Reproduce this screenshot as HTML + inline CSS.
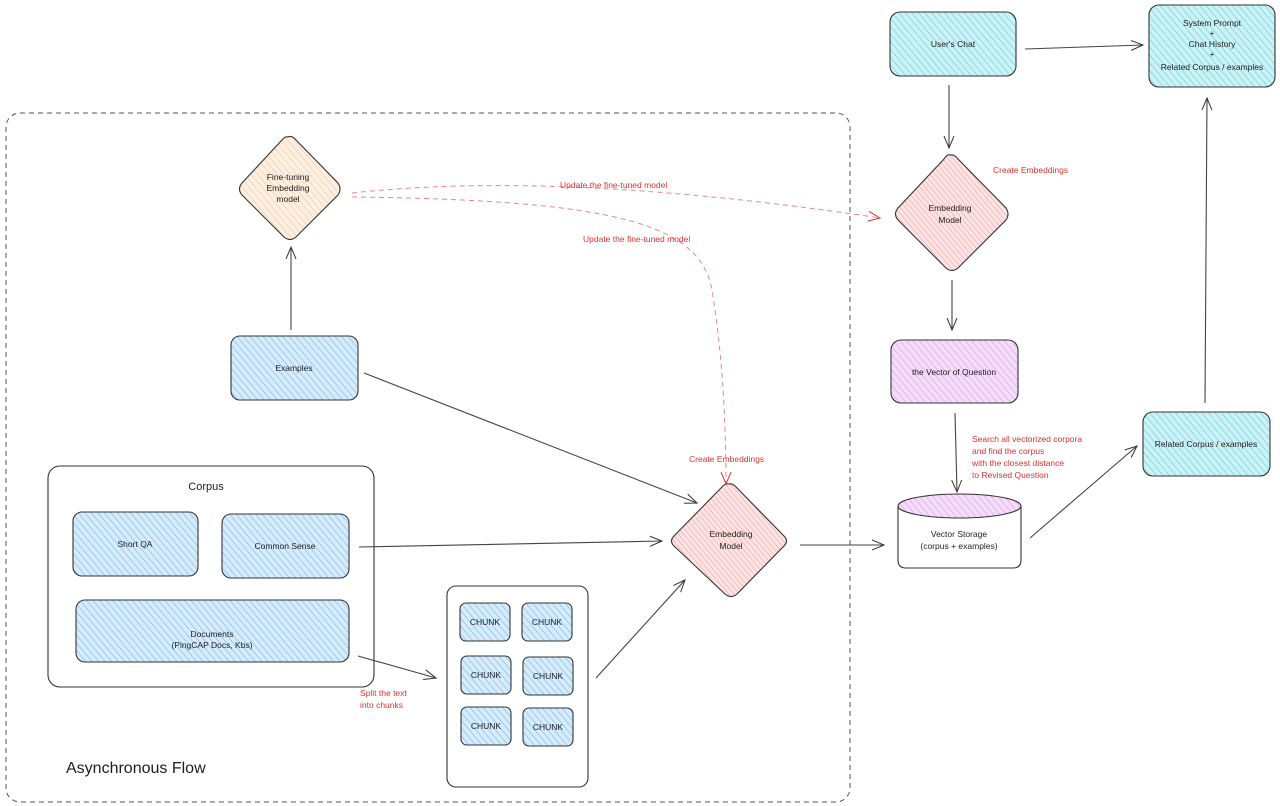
<!DOCTYPE html>
<html><head><meta charset="utf-8"><style>
html,body{margin:0;padding:0;background:#fff;}
svg{display:block;font-family:"Liberation Sans",sans-serif;}
</style></head><body>
<svg width="1280" height="806" viewBox="0 0 1280 806" xmlns="http://www.w3.org/2000/svg">
<defs>
<pattern id="hb" width="5" height="5" patternUnits="userSpaceOnUse" patternTransform="rotate(-40)"><rect width="5" height="5" fill="#d6ebfb"/><line x1="0" y1="0" x2="0" y2="5" stroke="#74b8ec" stroke-width="1.2"/></pattern>
<pattern id="hc" width="5" height="5" patternUnits="userSpaceOnUse" patternTransform="rotate(-40)"><rect width="5" height="5" fill="#cdf2f5"/><line x1="0" y1="0" x2="0" y2="5" stroke="#5ccfdc" stroke-width="1.2"/></pattern>
<pattern id="hp" width="5" height="5" patternUnits="userSpaceOnUse" patternTransform="rotate(-40)"><rect width="5" height="5" fill="#f6dcfb"/><line x1="0" y1="0" x2="0" y2="5" stroke="#d79ce8" stroke-width="1.2"/></pattern>
<pattern id="hr" width="4" height="4" patternUnits="userSpaceOnUse" patternTransform="rotate(-40)"><rect width="4" height="4" fill="#fde4e4"/><line x1="0" y1="0" x2="0" y2="4" stroke="#f0a0a0" stroke-width="1.1"/></pattern>
<pattern id="ho" width="5" height="5" patternUnits="userSpaceOnUse" patternTransform="rotate(-40)"><rect width="5" height="5" fill="#fdf0e2"/><line x1="0" y1="0" x2="0" y2="5" stroke="#f3c79a" stroke-width="1.2"/></pattern>
<marker id="a" markerWidth="14" markerHeight="12" refX="12" refY="6" orient="auto" markerUnits="userSpaceOnUse"><path d="M0,1 L12,6 L0,11" fill="none" stroke="#333" stroke-width="1"/></marker>
<marker id="ar" markerWidth="14" markerHeight="12" refX="12" refY="6" orient="auto" markerUnits="userSpaceOnUse"><path d="M0,1 L12,6 L0,11" fill="none" stroke="#e03131" stroke-width="1"/></marker>
</defs>

<rect x="6" y="113" width="844" height="689" rx="14" fill="none" stroke="#555" stroke-width="1" stroke-dasharray="5,4"/>

<g stroke="#333" stroke-width="1.1">
<path d="M288,137 Q292,135 296,140 L338,183 Q342,189 338,195 L296,237 Q290,242 284,237 L242,195 Q237,189 242,183 L282,140 Q285,136 288,137Z" fill="url(#ho)"/>
<rect x="231" y="336" width="127" height="64" rx="9" fill="url(#hb)"/>
<rect x="48" y="466" width="326" height="221" rx="12" fill="#fff"/>
<rect x="73" y="512" width="125" height="64" rx="9" fill="url(#hb)"/>
<rect x="222" y="514" width="127" height="64" rx="9" fill="url(#hb)"/>
<rect x="76" y="600" width="273" height="62" rx="9" fill="url(#hb)"/>
<rect x="447" y="586" width="141" height="201" rx="9" fill="#fff"/>
<rect x="460" y="603" width="50" height="38" rx="6" fill="url(#hb)"/>
<rect x="522" y="603" width="50" height="38" rx="6" fill="url(#hb)"/>
<rect x="461" y="656" width="50" height="38" rx="6" fill="url(#hb)"/>
<rect x="523" y="657" width="50" height="38" rx="6" fill="url(#hb)"/>
<rect x="461" y="707" width="50" height="38" rx="6" fill="url(#hb)"/>
<rect x="523" y="708" width="50" height="38" rx="6" fill="url(#hb)"/>
<path d="M729,484 Q733,483 737,488 L784,536 Q789,541 784,546 L737,594 Q731,599 725,594 L674,546 Q669,541 674,536 L721,488 Q725,483 729,484Z" fill="url(#hr)"/>
<path d="M898,506 L898,560 Q898,568 906,568 L1013,568 Q1021,568 1021,560 L1021,506" fill="#fff"/>
<ellipse cx="959.5" cy="506" rx="61.5" ry="12" fill="url(#hp)"/>
<rect x="890" y="12" width="126" height="64" rx="10" fill="url(#hc)"/>
<rect x="1149" y="5" width="126" height="82" rx="10" fill="url(#hc)"/>
<path d="M950,155 Q954,154 958,159 L1006,208 Q1010,214 1006,220 L958,268 Q952,273 946,268 L898,220 Q893,214 898,208 L944,159 Q947,154 950,155Z" fill="url(#hr)"/>
<rect x="891" y="340" width="127" height="63" rx="10" fill="url(#hp)"/>
<rect x="1143" y="412" width="127" height="64" rx="10" fill="url(#hc)"/>
</g>

<g stroke="#444" stroke-width="1.1" fill="none" marker-end="url(#a)">
<line x1="291" y1="330" x2="291" y2="247"/>
<line x1="364" y1="373" x2="697" y2="503"/>
<line x1="359" y1="547" x2="662" y2="541"/>
<line x1="358" y1="656" x2="436" y2="678"/>
<line x1="596" y1="678" x2="685" y2="580"/>
<line x1="800" y1="545" x2="884" y2="545"/>
<line x1="1025" y1="49" x2="1143" y2="45"/>
<line x1="949" y1="85" x2="949" y2="148"/>
<line x1="952" y1="280" x2="952" y2="330"/>
<line x1="955" y1="413" x2="957" y2="492"/>
<line x1="1030" y1="538" x2="1137" y2="446"/>
<line x1="1205" y1="403" x2="1207" y2="98"/>
</g>
<g stroke="#e8868a" stroke-width="1" fill="none" stroke-dasharray="5,4" marker-end="url(#ar)">
<path d="M352,193 Q560,170 880,218"/>
<path d="M352,197 C620,200 700,225 712,290 C722,350 726,420 726,484"/>
</g>

<g font-size="8.5" fill="#1e1e1e" text-anchor="middle">
<text x="288" y="180">Fine-tuning</text><text x="288" y="191">Embedding</text><text x="288" y="202">model</text>
<text x="294" y="371">Examples</text>
<text x="206" y="490" font-size="11">Corpus</text>
<text x="135" y="547">Short QA</text>
<text x="285" y="549">Common Sense</text>
<text x="212" y="637">Documents</text><text x="212" y="648">(PingCAP Docs, Kbs)</text>
<text x="485" y="625">CHUNK</text><text x="547" y="625">CHUNK</text>
<text x="486" y="678">CHUNK</text><text x="548" y="679">CHUNK</text>
<text x="486" y="729">CHUNK</text><text x="548" y="730">CHUNK</text>
<text x="731" y="537">Embedding</text><text x="731" y="549">Model</text>
<text x="959" y="537">Vector Storage</text><text x="959" y="549">(corpus + examples)</text>
<text x="953" y="47">User's Chat</text>
<text x="1212" y="26">System Prompt</text><text x="1212" y="36">+</text><text x="1212" y="47">Chat History</text><text x="1212" y="57">+</text><text x="1212" y="70">Related Corpus / examples</text>
<text x="950" y="211">Embedding</text><text x="950" y="223">Model</text>
<text x="954" y="375">the Vector of Question</text>
<text x="1206" y="447">Related Corpus / examples</text>
</g>
<g font-size="8.5" fill="#e03131">
<text x="560" y="188">Update the fine-tuned model</text>
<text x="583" y="242">Update the fine-tuned model</text>
<text x="689" y="462">Create Embeddings</text>
<text x="993" y="173">Create Embeddings</text>
<text x="360" y="696">Split the text</text><text x="360" y="708">into chunks</text>
<text x="972" y="442">Search all vectorized corpora</text>
<text x="972" y="454">and find the corpus</text>
<text x="972" y="466">with the closest distance</text>
<text x="972" y="478">to Revised Question</text>
</g>
<text x="66" y="773" font-size="16" fill="#1e1e1e">Asynchronous Flow</text>
</svg>
</body></html>
